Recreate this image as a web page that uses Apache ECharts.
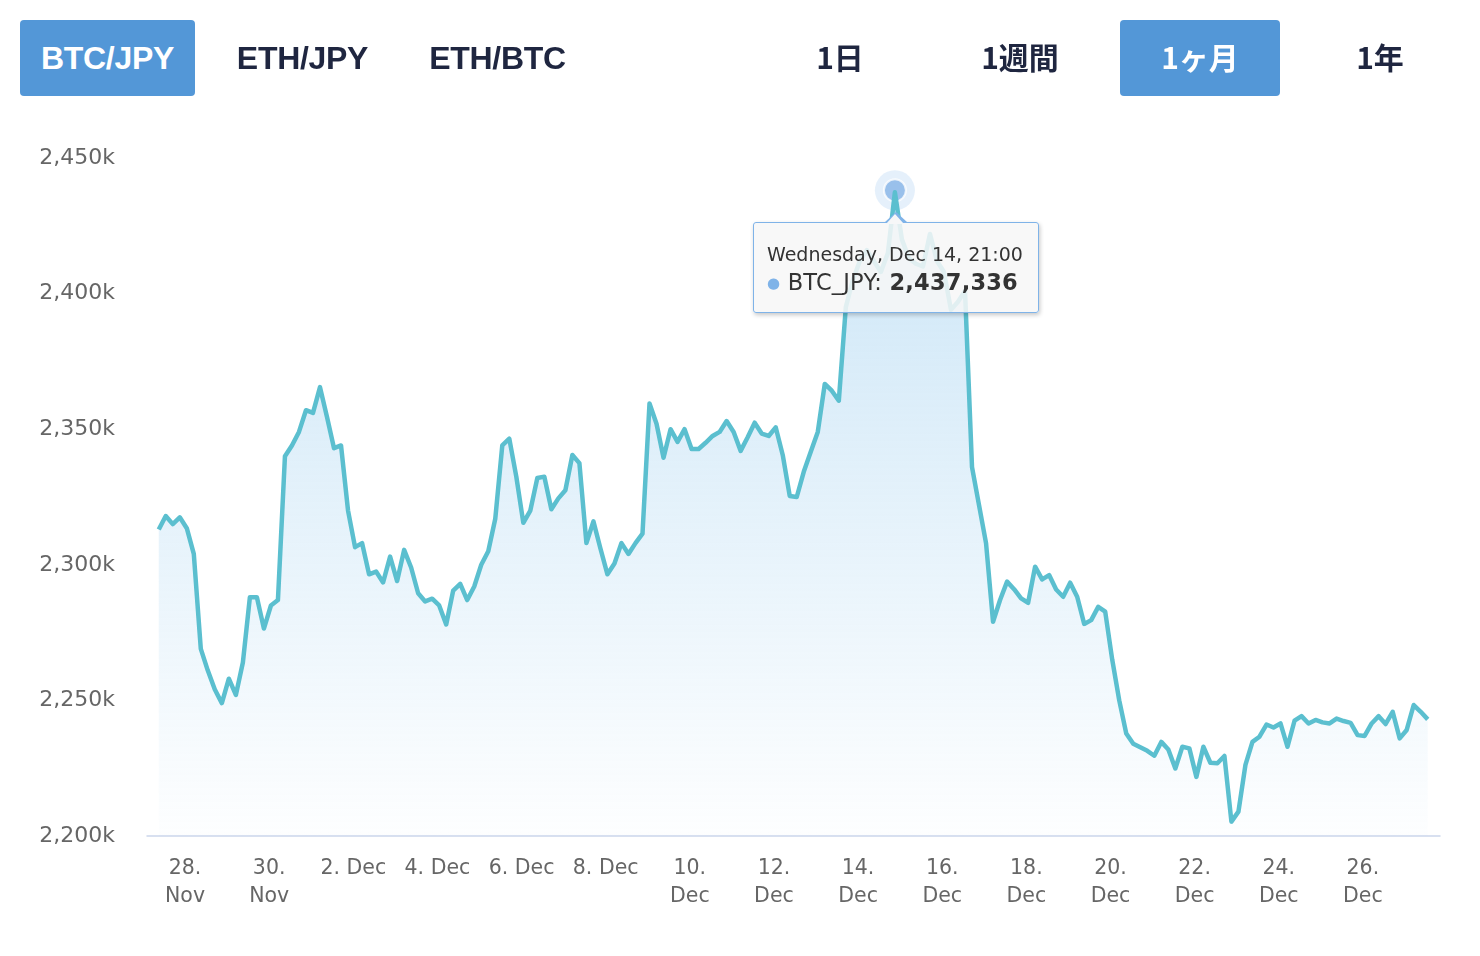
<!DOCTYPE html>
<html>
<head>
<meta charset="utf-8">
<script src="https://cdn.jsdelivr.net/npm/echarts@6/dist/echarts.min.js"></script>
<style>
  html, body { margin: 0; padding: 0; background: #fff; }
  #wrap { position: relative; width: 1480px; height: 956px; }
  #chart { position: absolute; left: 0; top: 0; width: 1480px; height: 956px; }
  .btn { position: absolute; top: 20px; height: 76px; display: flex; align-items: center; justify-content: center;
         border-radius: 4px; color: #1f2640; font-weight: bold; z-index: 5; box-sizing: border-box; }
  .btn.pair { font-family: "Liberation Sans", Arial, sans-serif; font-size: 32px; width: 175px; letter-spacing: -0.3px; }
  .btn.range { font-family: "Noto Sans CJK JP", sans-serif; font-size: 30px; width: 160px; padding-bottom: 4px; }
  .btn.active { background: #5397d7; color: #fff; }
</style>
</head>
<body>
<div id="wrap">
  <div id="chart"></div>
</div>
<script>
// ---- data ----
const pairLabels = ['BTC/JPY', 'ETH/JPY', 'ETH/BTC'];
const activePair = 0;
const rangeLabels = ['1日', '1週間', '1ヶ月', '1年'];
const activeRange = 2;

const seriesName = 'BTC_JPY';
// first sample: 2022-11-27 09:00, one sample every 4 hours
const startUTC = Date.UTC(2022, 10, 27, 9, 0);
const stepHours = 4;
const startHourOffset = 9; // hours after 27 Nov 00:00

// prices in thousands of JPY
const pricesK = [
  2313, 2318, 2315, 2317.5, 2313.5, 2304, 2269, 2261, 2254, 2249,
  2258, 2252, 2264, 2288, 2288, 2276.5, 2285, 2287, 2340, 2344,
  2349, 2357, 2356, 2365.5, 2354.5, 2343, 2344, 2320, 2306.5, 2308,
  2296.5, 2297.5, 2293.5, 2303, 2294, 2305.5, 2299, 2289.5, 2286.5, 2287.5,
  2285, 2278, 2290.5, 2293, 2287, 2292, 2300, 2305, 2317, 2344,
  2346.5, 2332.5, 2315.5, 2320, 2332, 2332.5, 2320.5, 2324.5, 2327.5, 2340.5,
  2337.5, 2308, 2316, 2306, 2296.5, 2300.5, 2308, 2304, 2308, 2311.5,
  2359.5, 2352, 2339.5, 2350, 2345.3, 2350, 2342.7, 2342.7, 2345, 2347.5,
  2349, 2353, 2349, 2342, 2347, 2352.4, 2348.4, 2347.5, 2350.7, 2340.5,
  2325.4, 2325, 2334.3, 2341.7, 2349, 2366.7, 2364.2, 2360.5, 2395, 2405,
  2412, 2416, 2412, 2408, 2415, 2437.336, 2420, 2413, 2411, 2410,
  2422, 2412, 2408, 2394, 2397, 2401, 2336, 2322, 2308, 2279,
  2287, 2293.8, 2291, 2287.6, 2286, 2299.3, 2294.6, 2296.2, 2290.9, 2288.2,
  2293.4, 2288.2, 2278.2, 2279.6, 2284.5, 2282.7, 2265, 2250, 2237.8, 2234,
  2232.7, 2231.4, 2229.6, 2234.7, 2231.9, 2224.9, 2232.9, 2232.3, 2221.8, 2232.9,
  2227, 2226.8, 2229.5, 2205.3, 2209, 2226.2, 2234.7, 2236.6, 2241.1, 2240,
  2241.5, 2232.9, 2242.5, 2244.2, 2241.5, 2242.8, 2241.9, 2241.5, 2243.3, 2242.4,
  2241.7, 2237.2, 2236.9, 2241.5, 2244.2, 2241.3, 2245.8, 2236, 2239.1, 2248.3,
  2245.8, 2243
];
const tooltipIndex = 105;

// x axis ticks (hours after 27 Nov 00:00) and their labels
const xTickHours = [24, 72, 120, 168, 216, 264, 312, 360, 408, 456, 504, 552, 600, 648, 696];
const xTickLabels = ['28.\nNov', '30.\nNov', '2. Dec', '4. Dec', '6. Dec', '8. Dec', '10.\nDec', '12.\nDec',
                     '14.\nDec', '16.\nDec', '18.\nDec', '20.\nDec', '22.\nDec', '24.\nDec', '26.\nDec'];
const xMinHour = 2.3, xMaxHour = 740;
const yMin = 2200000, yMax = 2450000, yStep = 50000;

const weekdays = ['Sunday','Monday','Tuesday','Wednesday','Thursday','Friday','Saturday'];
const months = ['Jan','Feb','Mar','Apr','May','Jun','Jul','Aug','Sep','Oct','Nov','Dec'];

// ---- buttons ----
const wrap = document.getElementById('wrap');
pairLabels.forEach((t, i) => {
  const d = document.createElement('div');
  d.className = 'btn pair' + (i === activePair ? ' active' : '');
  d.style.left = (20 + i * 195) + 'px';
  d.textContent = t;
  wrap.appendChild(d);
});
rangeLabels.forEach((t, i) => {
  const d = document.createElement('div');
  d.className = 'btn range' + (i === activeRange ? ' active' : '');
  d.style.left = (760 + i * 180) + 'px';
  d.textContent = t;
  wrap.appendChild(d);
});

// ---- chart ----
const points = pricesK.map((v, i) => [startHourOffset + i * stepHours, Math.round(v * 1000)]);
const tipPoint = points[tooltipIndex];

function fmtNum(v) { return v.toLocaleString('en-US'); }
function tipHtml(idx) {
  const d = new Date(startUTC + idx * stepHours * 3600000);
  const hh = String(d.getUTCHours()).padStart(2, '0');
  const mm = String(d.getUTCMinutes()).padStart(2, '0');
  const head = weekdays[d.getUTCDay()] + ', ' + months[d.getUTCMonth()] + ' ' + d.getUTCDate() + ', ' + hh + ':' + mm;
  return '<div style="position:relative;padding:18px 15px 12px 13px;font-family:\'DejaVu Sans\',sans-serif;color:#333;">' +
    '<div style="position:absolute;left:50%;margin-left:-11px;top:-11.5px;width:0;height:0;border-left:11px solid transparent;border-right:11px solid transparent;border-bottom:10px solid #7fb3e8;"></div>' +
    '<div style="position:absolute;left:50%;margin-left:-9.5px;top:-9.5px;width:0;height:0;border-left:9.5px solid transparent;border-right:9.5px solid transparent;border-bottom:10px solid #f6f7f8;"></div>' +
    '<div style="font-size:19px;line-height:26px;">' + head + '</div>' +
    '<div style="font-size:22.5px;line-height:30px;letter-spacing:0.2px;"><span style="color:#7fb3e8;font-size:15px;position:relative;top:-2px;">●</span> ' +
    seriesName + ': <b>' + fmtNum(points[idx][1]) + '</b></div></div>';
}

const chart = echarts.init(document.getElementById('chart'), null, { renderer: 'canvas' });
chart.setOption({
  animation: false,
  grid: { left: 147, right: 40, top: 158, bottom: 120, containLabel: false },
  tooltip: {
    trigger: 'item',
    triggerOn: 'none',
    alwaysShowContent: true,
    transitionDuration: 0,
    padding: 0,
    backgroundColor: 'rgba(247,247,247,0.86)',
    borderColor: '#7fb3e8',
    borderWidth: 1.5,
    extraCssText: 'border-radius:3px;box-shadow:1px 2px 4px rgba(0,0,0,0.22);',
    formatter: () => tipHtml(tooltipIndex),
    position: (pt, params, dom, rect, size) => [pt[0] - size.contentSize[0] / 2 + 1, pt[1] + 30]
  },
  xAxis: {
    type: 'value',
    min: xMinHour, max: xMaxHour,
    axisLine: { show: true, lineStyle: { color: '#ccd6eb', width: 1.5 } },
    axisTick: { show: false },
    splitLine: { show: false },
    axisLabel: {
      customValues: xTickHours,
      formatter: v => { const k = xTickHours.indexOf(v); return k >= 0 ? xTickLabels[k] : ''; },
      color: '#666', fontSize: 20.5, fontFamily: 'DejaVu Sans', lineHeight: 28, margin: 19
    }
  },
  yAxis: {
    type: 'value',
    min: yMin, max: yMax, interval: yStep,
    axisLine: { show: false },
    axisTick: { show: false },
    splitLine: { show: false },
    axisLabel: {
      formatter: v => fmtNum(v / 1000) + 'k',
      color: '#666', fontSize: 22, fontFamily: 'DejaVu Sans', margin: 32,
      padding: [4, 0, 0, 0]
    }
  },
  series: [
    {
      type: 'line',
      name: seriesName,
      data: points,
      showSymbol: false,
      symbol: 'none',
      tooltip: { show: false },
      silent: true,
      lineStyle: { color: '#5bbfcf', width: 4.5, join: 'round' },
      areaStyle: {
        color: new echarts.graphic.LinearGradient(0, 0, 0, 1, [
          { offset: 0, color: 'rgba(124,190,234,0.55)' },
          { offset: 1, color: 'rgba(124,190,234,0.02)' }
        ])
      },
      emphasis: { disabled: true }
    },
    {
      type: 'scatter',
      data: [tipPoint],
      symbolSize: 40,
      symbolOffset: [0, -2],
      silent: true,
      tooltip: { show: false },
      itemStyle: { color: 'rgba(124,181,236,0.25)' },
      emphasis: { disabled: true }
    },
    {
      type: 'scatter',
      data: [tipPoint],
      symbolSize: 22,
      symbolOffset: [0, -2],
      itemStyle: { color: '#86b4e7', borderColor: '#ffffff', borderWidth: 2 },
      emphasis: { disabled: true }
    }
  ]
});
chart.dispatchAction({ type: 'showTip', seriesIndex: 2, dataIndex: 0 });
</script>
</body>
</html>
